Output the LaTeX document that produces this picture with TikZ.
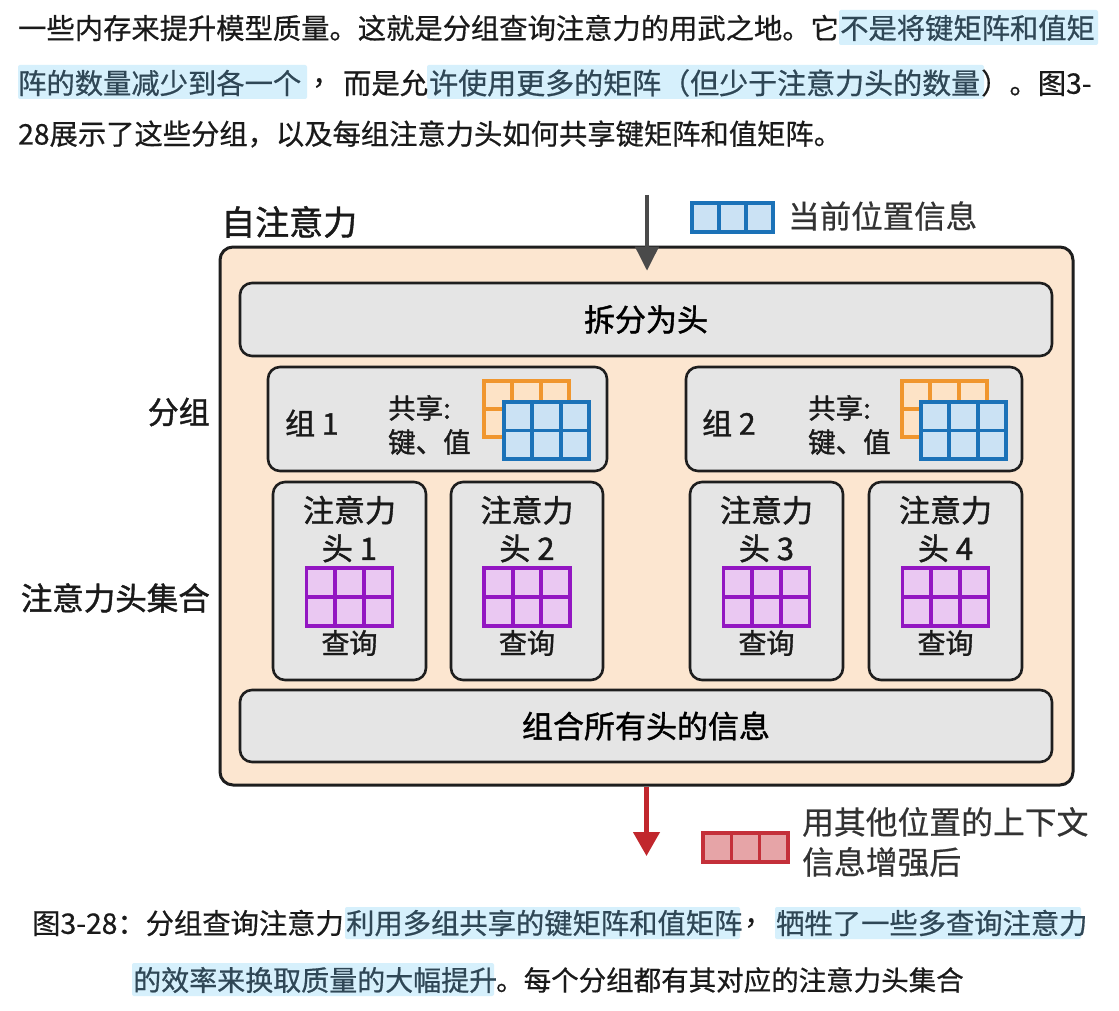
\documentclass[tikz,border=0pt]{standalone}
\usepackage{fontspec}
\setmainfont{Noto Sans CJK SC}[FakeBold=0.6]
\newfontfamily\dfont{Noto Sans CJK SC}[FakeBold=1.3]
\usetikzlibrary{arrows.meta}
\definecolor{peach}{HTML}{FCE6D0}
\definecolor{boxgray}{HTML}{E5E5E5}
\definecolor{edge}{HTML}{1E1E1E}
\definecolor{hl}{HTML}{D6F0FC}
\definecolor{hltext}{HTML}{2F4756}
\definecolor{ink}{HTML}{1A1A1A}
\definecolor{legink}{HTML}{333333}
\definecolor{orangeE}{HTML}{F0962E}
\definecolor{orangeF}{HTML}{FDE3C6}
\definecolor{blueE}{HTML}{1B72B8}
\definecolor{blueF}{HTML}{CBE2F4}
\definecolor{purpleE}{HTML}{9316C2}
\definecolor{purpleF}{HTML}{EAC8F2}
\definecolor{redE}{HTML}{C4303A}
\definecolor{redF}{HTML}{E6A4A7}
\definecolor{inarrowc}{HTML}{4A4A4A}
\definecolor{outarrowc}{HTML}{C1272D}
\newcommand\myfs[2]{\fontsize{#1pt}{#2pt}\selectfont}
% 3x2 grid: x, ytop, w, h, edge, fill
\newcommand\gridsix[6]{%
  \filldraw[draw=#5,fill=#6,line width=3.8pt] (#1,#2) rectangle ++(#3,#4);
  \draw[draw=#5,line width=3.8pt] ({#1+#3/3},#2) -- ++(0,#4)
    ({#1+2*#3/3},#2) -- ++(0,#4) (#1,{#2+#4/2}) -- ++(#3,0);}
% 3x1 grid
\newcommand\gridthree[6]{%
  \filldraw[draw=#5,fill=#6,line width=3.2pt] (#1,#2) rectangle ++(#3,#4);
  \draw[draw=#5,line width=3.2pt] ({#1+#3/3},#2) -- ++(0,#4)
    ({#1+2*#3/3},#2) -- ++(0,#4);}
\tikzset{
  txt/.style={inner sep=0pt, text=ink},
  ptxt/.style={txt, anchor=west, font=\myfs{28.3}{34}},
  htxt/.style={ptxt, text=hltext},
  hlbox/.style={fill=hl, rounded corners=2pt},
  panel/.style={draw=edge, line width=2.6pt, fill=boxgray, rounded corners=12pt, inner sep=0pt},
  dtxt/.style={inner sep=0pt, text=ink},
}
\begin{document}
\begin{tikzpicture}[x=1pt,y=-1pt]
\useasboundingbox[fill=white] (0,0) rectangle (1119,1011);

% ---------- top paragraph ----------
\fill[hlbox] (839,10) rectangle (1098,45);
\fill[hlbox] (18,65) rectangle (307,99);
\fill[hlbox] (427,65) rectangle (984,99);
\node[ptxt] (p1a) at (18,28) {一些内存来提升模型质量。这就是分组查询注意力的用武之地。它};
\node[htxt] (p1b) at (840,28) {不是将键矩阵和值矩};
\node[htxt] (p2a) at (18,83) {阵的数量减少到各一个};
\node[ptxt] (p2b) at (312,83) {，};
\node[ptxt] (p2bb) at (343,83) {而是允};
\node[htxt, font=\myfs{29}{34}] (p2c) at (429,83) {许使用更多的矩阵（但少于注意力头的数量};
\node[ptxt] (p2d) at (981,83) {）。图3-};
\node[ptxt] (p3) at (18,134) {28展示了这些分组，以及每组注意力头如何共享键矩阵和值矩阵。};

% ---------- diagram ----------
\node[dtxt, anchor=west, font=\dfont\myfs{34}{40}] (title) at (221,222) {自注意力};

\gridthree{692}{203}{81}{29}{blueE}{blueF}
\node[dtxt, anchor=west, text=legink, font=\myfs{31.5}{38}] (legin) at (788,216) {当前位置信息};

\node[draw=edge, line width=3pt, fill=peach, rounded corners=13pt,
      minimum width=853pt, minimum height=538pt, inner sep=0pt] (outer) at (646.5,516) {};

\node[panel, minimum width=812pt, minimum height=73pt, font=\dfont\myfs{31}{36}] (split) at (646,319.5) {拆分为头};

\node[panel, minimum width=339pt, minimum height=104pt] (g1) at (437.5,419) {};
\node[panel, minimum width=336pt, minimum height=104pt] (g2) at (854,419) {};

\node[dtxt, anchor=west, font=\dfont\myfs{30}{36}] (g1t) at (285,423) {组 1};
\node[dtxt, anchor=west, font=\dfont\myfs{30}{36}] (g2t) at (702,423) {组 2};
\node[dtxt, anchor=west, align=left, font=\dfont\myfs{27.5}{34}] (g1s) at (388,425) {共享:\\键、值};
\node[dtxt, anchor=west, align=left, font=\dfont\myfs{27.5}{34}] (g2s) at (808,425) {共享:\\键、值};

\gridsix{484}{381}{85}{56}{orangeE}{orangeF}
\gridsix{504}{402}{85}{57}{blueE}{blueF}
\gridsix{902}{381}{85}{56}{orangeE}{orangeF}
\gridsix{921}{402}{85}{57}{blueE}{blueF}

\foreach \n/\cx/\w in {1/349.5/153, 2/527/152, 3/766.5/153, 4/945.5/153}{
  \node[panel, minimum width=\w pt, minimum height=198pt] (h\n) at (\cx,581) {};
  \node[dtxt, align=center, font=\dfont\myfs{31}{38}] (h\n t) at (\cx,529) {注意力\\头 \n};
  \gridsix{\cx-43}{568}{86}{58}{purpleE}{purpleF}
  \node[dtxt, font=\dfont\myfs{28}{34}] (h\n q) at (\cx,643) {查询};
}

\node[panel, minimum width=812pt, minimum height=72pt, font=\dfont\myfs{31}{36}] (comb) at (646,726) {组合所有头的信息};

\node[dtxt, anchor=east, font=\dfont\myfs{31}{38}] (lgroup) at (210,412) {分组};
\node[dtxt, anchor=east, font=\dfont\myfs{31.5}{38}] (lheads) at (210,598) {注意力头集合};

% arrows
\coordinate (inTop) at (647,195);
\draw[draw=inarrowc, line width=4pt, shorten >=11pt,
      -{Triangle[length=24pt,width=23pt]}] (inTop) -- (inTop |- split.north);
\coordinate (outBot) at (646.5,856);
\draw[draw=outarrowc, line width=4.5pt,
      -{Triangle[length=24pt,width=26pt]}] (outer.south) -- (outBot);

\gridthree{703}{833}{85}{29}{redE}{redF}
\node[dtxt, anchor=west, align=left, text=legink, font=\myfs{31.8}{40}] (legout) at (802,842) {用其他位置的上下文\\信息增强后};

% ---------- caption ----------
\fill[hlbox] (345,907) rectangle (740,939);
\fill[hlbox] (775,907) rectangle (1081,939);
\fill[hlbox] (132,963) rectangle (494,996);
\node[ptxt] (c1a) at (32,923) {图3-28：分组查询注意力};
\node[htxt] (c1b) at (346,923) {利用多组共享的键矩阵和值矩阵};
\node[ptxt] (c1c) at (744,923) {，};
\node[htxt] (c1d) at (776,923) {牺牲了一些多查询注意力};
\node[htxt, font=\myfs{28}{34}] (c2a) at (133,980) {的效率来换取质量的大幅提升};
\node[ptxt, font=\myfs{27.5}{34}] (c2b) at (496,980) {。每个分组都有其对应的注意力头集合};
\end{tikzpicture}
\end{document}
